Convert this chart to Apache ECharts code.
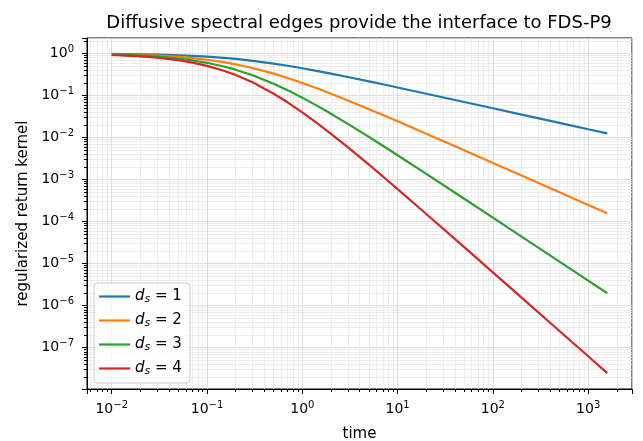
<!DOCTYPE html>
<html>
<head>
<meta charset="utf-8">
<script src="https://cdn.jsdelivr.net/npm/echarts@6/dist/echarts.min.js"></script>
<style>
  html, body { margin: 0; padding: 0; background: #fff; }
  #chart { width: 643px; height: 441px; }
</style>
</head>
<body>
<div id="chart"></div>
<script>
// 时间采样点
const times = [0.01, 0.02, 0.03, 0.05, 0.07, 0.1, 0.15, 0.2, 0.3, 0.5, 0.7, 1, 1.5, 2, 3, 5, 7, 10, 20, 50, 100, 200, 500, 1000, 1585];
// 各条曲线的数值
const ds1 = [0.981, 0.962, 0.945, 0.913, 0.884, 0.845, 0.791, 0.745, 0.674, 0.577, 0.513, 0.447, 0.378, 0.333, 0.277, 0.218, 0.186, 0.156, 0.111, 0.0705, 0.0499, 0.0353, 0.0224, 0.0158, 0.0126];
const ds2 = [0.962, 0.926, 0.893, 0.833, 0.781, 0.714, 0.625, 0.556, 0.455, 0.333, 0.263, 0.2, 0.143, 0.111, 0.0769, 0.0476, 0.0345, 0.0244, 0.0123, 0.00498, 0.00249, 0.00125, 0.0005, 0.00025, 0.000158];
const ds3 = [0.943, 0.891, 0.844, 0.761, 0.691, 0.604, 0.494, 0.414, 0.306, 0.192, 0.135, 0.0894, 0.054, 0.037, 0.0213, 0.0104, 0.0064, 0.00381, 0.00137, 0.000351, 0.000125, 4.41e-5, 1.12e-5, 3.95e-6, 1.98e-6];
const ds4 = [0.925, 0.857, 0.797, 0.694, 0.61, 0.51, 0.391, 0.309, 0.207, 0.111, 0.0693, 0.04, 0.0204, 0.0123, 0.00592, 0.00227, 0.00119, 0.000595, 0.000152, 2.48e-5, 6.22e-6, 1.56e-6, 2.5e-7, 6.25e-8, 2.49e-8];
const seriesNames = ["d_s = 1", "d_s = 2", "d_s = 3", "d_s = 4"];
const seriesValues = [ds1, ds2, ds3, ds4];
const colors = ["#1f77b4", "#ff7f0e", "#2ca02c", "#d62728"];

const font = "DejaVu Sans";

// 10的幂次标签
function powLabel(value) {
  const e = Math.log10(value);
  const r = Math.round(e);
  if (Math.abs(e - r) > 1e-6) return "";
  return "{b|10}{s|" + String(r).replace("-", "\u2212") + "}";
}

const labelRich = {
  b: { fontFamily: font, fontSize: 14, color: "#000" },
  s: { fontFamily: font, fontSize: 10, color: "#000", padding: [0, 0, 8, 0] },
};

const myChart = echarts.init(document.getElementById("chart"));

myChart.setOption({
  animation: false,
  title: {
    text: "Diffusive spectral edges provide the interface to FDS-P9",
    left: 354,
    top: 9,
    textAlign: "center",
    textStyle: { fontFamily: font, fontSize: 18, fontWeight: "normal", color: "#000" },
  },
  grid: {
    left: 87,
    right: 11,
    top: 38,
    bottom: 52,
    containLabel: false,
    outerBoundsMode: "none",
    show: true,
    borderColor: "#000",
    borderWidth: 1,
    backgroundColor: "transparent",
  },
  legend: {
    left: 94,
    top: 283,
    orient: "vertical",
    backgroundColor: "rgba(255,255,255,0.8)",
    borderColor: "#cccccc",
    borderWidth: 1,
    borderRadius: 3,
    padding: [6, 8, 6, 5],
    itemGap: 8,
    itemWidth: 31,
    itemHeight: 2.2,
    icon: "rect",
    data: seriesNames,
    formatter: function (name) {
      return "{i|d}{sub|s}{n| = " + name.slice(-1) + "}";
    },
    textStyle: {
      rich: {
        i: { fontFamily: font, fontStyle: "italic", fontSize: 15, color: "#000" },
        sub: { fontFamily: font, fontStyle: "italic", fontSize: 11, color: "#000", padding: [6, 0, 0, 0] },
        n: { fontFamily: font, fontSize: 15, color: "#000" },
      },
    },
  },
  xAxis: {
    type: "log",
    logBase: 10,
    min: 0.0055,
    max: 2884,
    name: "time",
    nameLocation: "middle",
    nameGap: 38,
    nameTextStyle: { fontFamily: font, fontSize: 15, color: "#000" },
    axisLine: { show: true, lineStyle: { color: "#000", width: 1 } },
    axisTick: { show: true, inside: false, length: 5, lineStyle: { color: "#000" } },
    minorTick: { show: true, splitNumber: 9, length: 3, lineStyle: { color: "#000" } },
    axisLabel: { formatter: powLabel, margin: 11, rich: labelRich },
    splitLine: { show: true, lineStyle: { color: "#d6d6d6", width: 0.8 } },
    minorSplitLine: { show: true, lineStyle: { color: "#e9e9e9", width: 0.8 } },
  },
  yAxis: {
    type: "log",
    logBase: 10,
    min: 1.04e-8,
    max: 2.35,
    name: "regularized return kernel",
    nameLocation: "middle",
    nameGap: 50,
    nameTextStyle: { fontFamily: font, fontSize: 15, color: "#000" },
    axisLine: { show: true, lineStyle: { color: "#000", width: 1 } },
    axisTick: { show: true, inside: false, length: 5, lineStyle: { color: "#000" } },
    minorTick: { show: true, splitNumber: 9, length: 3, lineStyle: { color: "#000" } },
    axisLabel: { formatter: powLabel, margin: 13, rich: labelRich },
    splitLine: { show: true, lineStyle: { color: "#d6d6d6", width: 0.8 } },
    minorSplitLine: { show: true, lineStyle: { color: "#e9e9e9", width: 0.8 } },
  },
  series: seriesValues.map(function (vals, i) {
    return {
      name: seriesNames[i],
      type: "line",
      showSymbol: false,
      symbol: "none",
      color: colors[i],
      lineStyle: { width: 2.2, color: colors[i] },
      data: times.map(function (t, j) { return [t, vals[j]]; }),
    };
  }),
});
</script>
</body>
</html>
